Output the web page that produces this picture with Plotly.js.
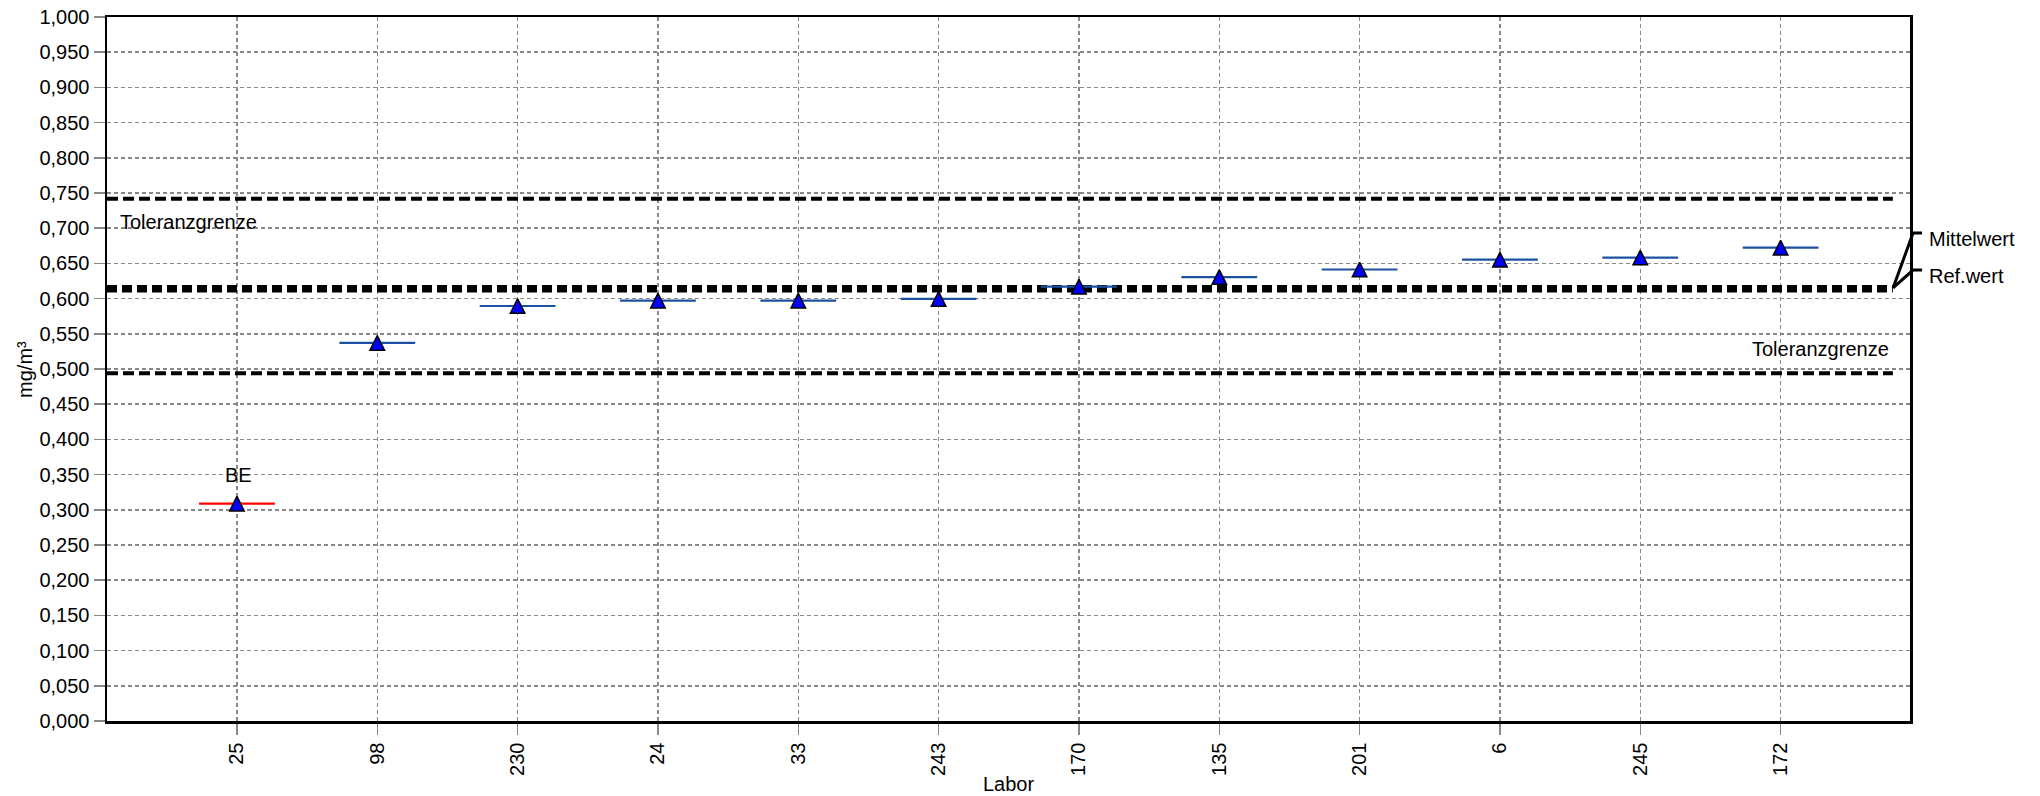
<!DOCTYPE html>
<html><head><meta charset="utf-8">
<script src="https://cdn.plot.ly/plotly-3.0.1.min.js"></script>
<style>html,body{margin:0;padding:0;background:#fff}#chart{width:2040px;height:796px}</style>
</head><body><div id="chart"></div>
<script>
// ---- data ----
const labs = ['25','98','230','24','33','243','170','135','201','6','245','172'];
const values = [0.3087,0.537,0.5895,0.597,0.597,0.5995,0.617,0.6306,0.6413,0.6553,0.6583,0.6723];
const flags = ['BE','','','','','','','','','','',''];
const yTickVals = [0,0.05,0.1,0.15,0.2,0.25,0.3,0.35,0.4,0.45,0.5,0.55,0.6,0.65,0.7,0.75,0.8,0.85,0.9,0.95,1.0];
const tolUpper = 0.742;
const tolLower = 0.494;
const mittelwert = 0.6115;
const refwert = 0.6165;
const xTitle = 'Labor';
const yTitle = 'mg/m³';

// ---- layout constants ----
const xRange = [-0.926, 11.922];
const xLineEnd = 11.80;
const idx = labs.map((_, i) => i);
const gridCol = '#888888';
const fontFam = '"Liberation Sans", Arial, Helvetica, sans-serif';

function refLine(v, width, dash) {
  return {x: [xRange[0], xLineEnd], y: [v, v], mode: 'lines', hoverinfo: 'skip',
          line: {color: '#000', width: width, dash: dash}, cliponaxis: false};
}

const traces = [
  refLine(tolUpper, 4, '11px,5px'),
  refLine(tolLower, 4, '11px,5px'),
  refLine(mittelwert, 4, '10px,5px'),
  refLine(refwert, 4, '10px,5px')
];

const isFlag = flags.map(f => f !== '');
function pointTrace(sel, color) {
  const xs = [], ys = [];
  idx.forEach(i => { if (sel(i)) { xs.push(i); ys.push(values[i]); } });
  return {
    x: xs, y: ys, mode: 'markers', cliponaxis: false,
    error_x: {type: 'constant', value: 0.27, width: 0, thickness: 2.2, color: color},
    marker: {symbol: 'arrow-down', angle: 180, size: 14.5, standoff: 7.25,
             color: '#0000ff', line: {color: '#000', width: 1.5}}
  };
}
traces.push(pointTrace(i => !isFlag[i], '#1c50a0'));
traces.push(pointTrace(i => isFlag[i], '#ff0000'));

const annotations = [];
flags.forEach((f, i) => {
  if (f) annotations.push({x: i, y: values[i], text: f, showarrow: false, yshift: 29,
    xshift: 2, font: {size: 20, color: '#000'}});
});
annotations.push({xref: 'paper', x: 0.0061, xanchor: 'left', y: tolUpper, yanchor: 'middle',
  yshift: -23, text: 'Toleranzgrenze', showarrow: false});
annotations.push({xref: 'paper', x: 0.9895, xanchor: 'right', y: tolLower, yanchor: 'middle',
  yshift: 24, text: 'Toleranzgrenze', showarrow: false});
annotations.push({xref: 'paper', yref: 'paper', x: 1.0094, xanchor: 'left', y: 0.6847, yanchor: 'middle',
  text: 'Mittelwert', showarrow: false});
annotations.push({xref: 'paper', yref: 'paper', x: 1.0094, xanchor: 'left', y: 0.632, yanchor: 'middle',
  text: 'Ref.wert', showarrow: false});
annotations.push({xref: 'paper', yref: 'paper', x: 0.5, xanchor: 'center', y: -0.0895, yanchor: 'middle',
  text: xTitle, showarrow: false});
annotations.push({xref: 'paper', yref: 'paper', x: -0.0455, xanchor: 'center', y: 0.5, yanchor: 'middle',
  text: yTitle, textangle: -90, showarrow: false});

const shapes = [
  {type: 'path', xref: 'paper', yref: 'paper', path: 'M 0.9906 0.6151 L 1.0017 0.6932 L 1.0067 0.6932',
   line: {color: '#000', width: 3}},
  {type: 'path', xref: 'paper', yref: 'paper', path: 'M 0.9906 0.6151 L 1.0017 0.6406 L 1.0067 0.6406',
   line: {color: '#000', width: 3}}
];

const axisCommon = {
  ticks: 'outside', ticklen: 11, tickcolor: gridCol, tickwidth: 1.5,
  showgrid: true, gridcolor: gridCol, gridwidth: 1.5, griddash: '4px,3px',
  showline: true, linecolor: '#000', linewidth: 2.5, mirror: true,
  zeroline: false, fixedrange: true, automargin: false,
  tickfont: {size: 20, color: '#000', family: fontFam}
};

const layout = {
  width: 2040, height: 796,
  margin: {l: 107, r: 130, t: 17, b: 75, pad: 0},
  separators: ',.',
  font: {family: fontFam, size: 20, color: '#000'},
  showlegend: false,
  paper_bgcolor: '#fff', plot_bgcolor: '#fff',
  xaxis: Object.assign({}, axisCommon, {range: xRange, tickmode: 'array', tickvals: idx, ticktext: labs, tickangle: -90}),
  yaxis: Object.assign({}, axisCommon, {range: [0, 1], tickmode: 'array', tickvals: yTickVals, tickformat: '.3f'}),
  annotations: annotations,
  shapes: shapes
};

Plotly.newPlot('chart', traces, layout, {displayModeBar: false, staticPlot: true});
</script>
</body></html>
